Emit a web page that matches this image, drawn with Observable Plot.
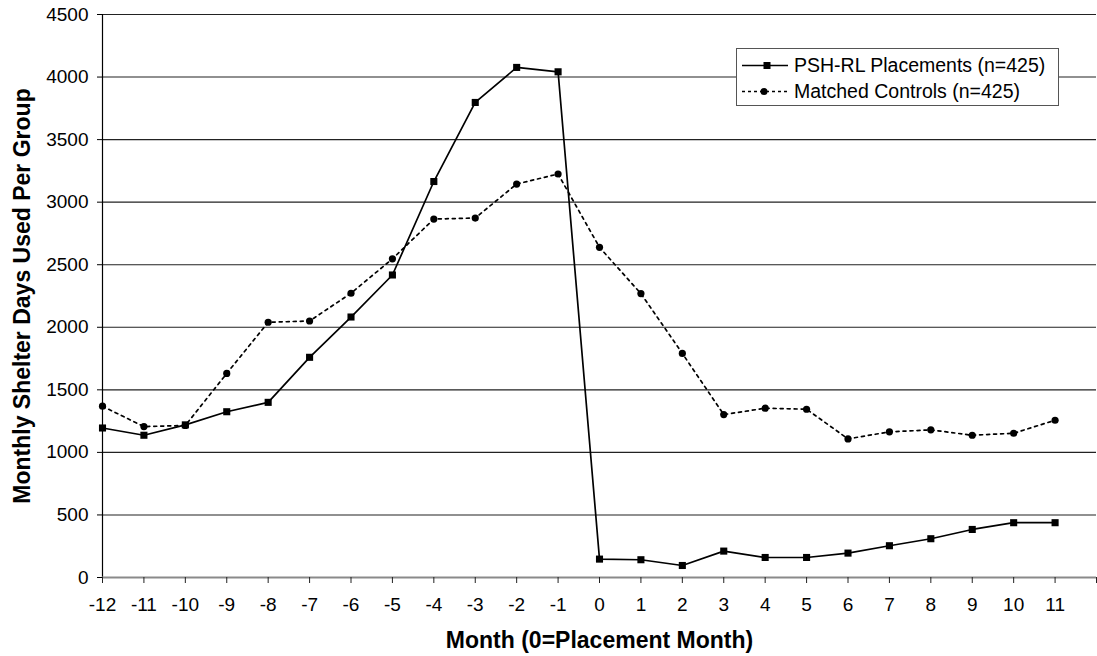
<!DOCTYPE html>
<html>
<head>
<meta charset="utf-8">
<script src="https://cdn.jsdelivr.net/npm/d3@7"></script>
<script src="https://cdn.jsdelivr.net/npm/@observablehq/plot@0.6"></script>
<style>
  html, body { margin: 0; padding: 0; background: white; }
  #chart { position: relative; width: 1097px; height: 656px; }
</style>
</head>
<body>
<div id="chart"></div>
<script>
// Data
const months = [-12, -11, -10, -9, -8, -7, -6, -5, -4, -3, -2, -1, 0, 1, 2, 3, 4, 5, 6, 7, 8, 9, 10, 11];
const pshPlacements = [1195, 1137, 1220, 1325, 1400, 1760, 2082, 2418, 3165, 3797, 4077, 4042, 147, 142, 96, 211, 160, 160, 195, 254, 310, 384, 438, 438];
const matchedControls = [1369, 1206, 1215, 1631, 2040, 2050, 2272, 2547, 2865, 2873, 3145, 3225, 2639, 2269, 1791, 1302, 1353, 1345, 1108, 1164, 1180, 1137, 1153, 1257];
const xTicks = [-12, -11, -10, -9, -8, -7, -6, -5, -4, -3, -2, -1, 0, 1, 2, 3, 4, 5, 6, 7, 8, 9, 10, 11, 12];
const xTickLabels = ["-12", "-11", "-10", "-9", "-8", "-7", "-6", "-5", "-4", "-3", "-2", "-1", "0", "1", "2", "3", "4", "5", "6", "7", "8", "9", "10", "11", ""];
const yTicks = [0, 500, 1000, 1500, 2000, 2500, 3000, 3500, 4000, 4500];
const seriesNames = ["PSH-RL Placements (n=425)", "Matched Controls (n=425)"];
const xTitle = "Month (0=Placement Month)";
const yTitle = "Monthly Shelter Days Used Per Group";

const rows = months.map((m, i) => ({month: m, psh: pshPlacements[i], ctrl: matchedControls[i]}));
const font = "'Liberation Sans', Arial, Helvetica, sans-serif";

const chart = Plot.plot({
  width: 1097,
  height: 656,
  marginLeft: 102,
  marginRight: 1,
  marginTop: 14,
  marginBottom: 79,
  style: {fontFamily: font, fontSize: "19px", color: "black", background: "white"},
  x: {type: "linear", domain: [-12, 12]},
  y: {domain: [0, 4500]},
  marks: [
    Plot.gridY(yTicks, {stroke: "#222", strokeOpacity: 1, strokeWidth: 1.1}),
    Plot.axisY(yTicks, {tickSize: 5, tickPadding: 9, fontSize: 19, label: null, stroke: "black", tickFormat: d => String(d)}),
    Plot.ruleX([-12], {stroke: "black", strokeWidth: 1.2}),
    Plot.ruleY([0], {stroke: "#8a8a8a", strokeWidth: 2}),
    Plot.axisX(xTicks, {
      tickSize: 6, tickPadding: 14, fontSize: 19, label: null, stroke: "#222",
      tickFormat: d => xTickLabels[xTicks.indexOf(d)]
    }),
    Plot.line(rows, {x: "month", y: "ctrl", stroke: "black", strokeWidth: 1.7, strokeDasharray: "3,4"}),
    Plot.line(rows, {x: "month", y: "psh", stroke: "black", strokeWidth: 1.7}),
    Plot.dot(rows, {x: "month", y: "ctrl", symbol: "circle", r: 3.6, fill: "black", stroke: "none"}),
    Plot.dot(rows, {x: "month", y: "psh", symbol: "square", r: 4, fill: "black", stroke: "none"}),
    Plot.text([xTitle], {text: d => d, frameAnchor: "bottom", textAnchor: "middle", lineAnchor: "middle", dy: 63, fontSize: 23, fontWeight: "bold"}),
    Plot.text([yTitle], {text: d => d, frameAnchor: "left", textAnchor: "middle", lineAnchor: "middle", dx: -80, rotate: -90, fontSize: 23, fontWeight: "bold"})
  ]
});

document.getElementById("chart").appendChild(chart);

// Legend drawn inside the plot area (top right)
const svg = d3.select(chart);
const lg = svg.append("g").attr("font-family", font).attr("font-size", 19.5).attr("text-anchor", "start");
lg.append("rect").attr("x", 736.5).attr("y", 48.5).attr("width", 322).attr("height", 57)
  .attr("fill", "white").attr("stroke", "#555").attr("stroke-width", 1);
const legendRows = [
  {name: seriesNames[0], dash: null, sym: "square", y: 65.5},
  {name: seriesNames[1], dash: "3,3", sym: "circle", y: 91.5}
];
legendRows.forEach(r => {
  lg.append("line").attr("x1", 742).attr("x2", 788).attr("y1", r.y).attr("y2", r.y)
    .attr("stroke", "black").attr("stroke-width", 1.6).attr("stroke-dasharray", r.dash);
  if (r.sym === "square") {
    lg.append("rect").attr("x", 763.5).attr("y", r.y - 3.5).attr("width", 7).attr("height", 7).attr("fill", "black");
  } else {
    lg.append("circle").attr("cx", 764).attr("cy", r.y).attr("r", 3.5).attr("fill", "black");
  }
  lg.append("text").attr("x", 794).attr("y", r.y).attr("dy", "0.35em").attr("text-anchor", "start").attr("fill", "black").text(r.name);
});
</script>
</body>
</html>
